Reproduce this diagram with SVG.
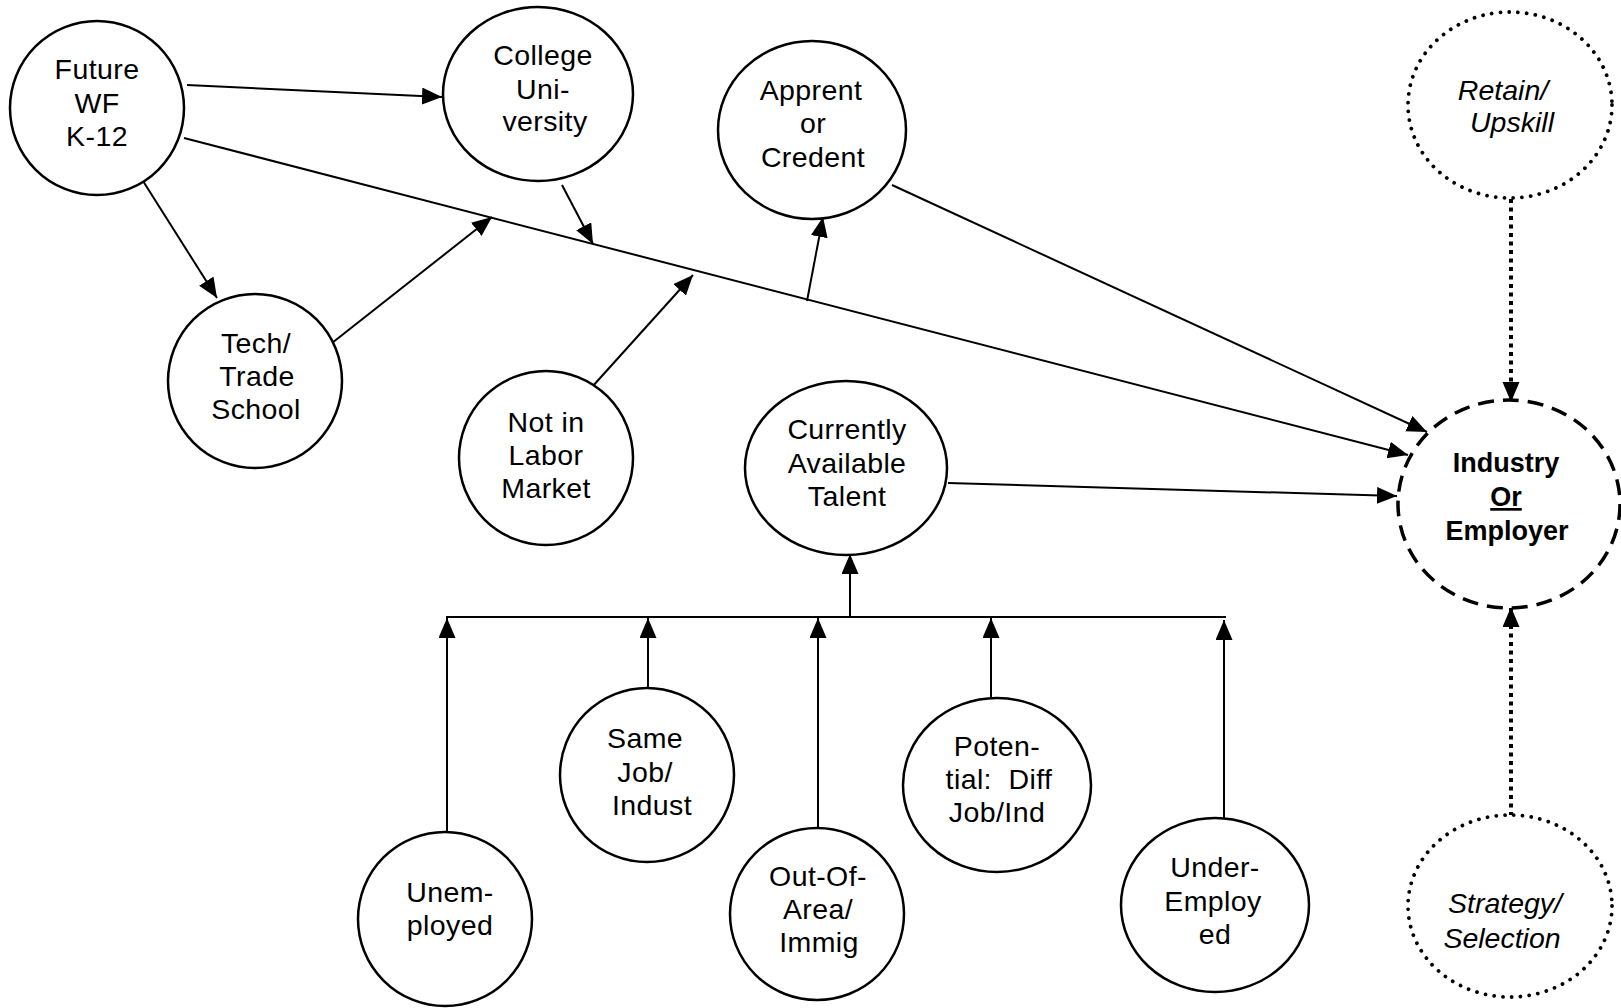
<svg xmlns="http://www.w3.org/2000/svg" width="1621" height="1008" viewBox="0 0 1621 1008">
<style>
.n{fill:#fff;stroke:#000;stroke-width:2.5}
.dash{fill:#fff;stroke:#000;stroke-width:3.5;stroke-dasharray:16 9}
.dot{fill:#fff;stroke:#000;stroke-width:3.8;stroke-dasharray:0.01 8.8;stroke-linecap:round}
.t{font-family:"Liberation Sans",Arial,sans-serif;font-size:28.5px;letter-spacing:0.4px;text-anchor:middle;fill:#000}
.b{font-family:"Liberation Sans",Arial,sans-serif;font-size:27px;font-weight:bold;text-anchor:middle;fill:#000}
.i{font-family:"Liberation Sans",Arial,sans-serif;font-size:28.5px;font-style:italic;text-anchor:middle;fill:#000}
.c{fill:none;stroke:#000;stroke-width:2;marker-end:url(#ah)}
.bus{fill:none;stroke:#000;stroke-width:2.2}
.dc{fill:none;stroke:#000;stroke-width:4;stroke-dasharray:4 4.5;marker-end:url(#ah)}
</style>
<defs>
<marker id="ah" markerUnits="userSpaceOnUse" markerWidth="21" markerHeight="18" refX="20" refY="8.5" orient="auto">
<path d="M0,0 L20,8.5 L0,17 z" fill="#000"/>
</marker>
</defs>
<rect width="1621" height="1008" fill="#fff"/>
<g id="connectors">
<path class="c" d="M187,85 L442,97"/>
<path class="c" d="M184,138 L1408,455"/>
<path class="c" d="M143,181 L217,298"/>
<path class="c" d="M332,343 L492,217"/>
<path class="c" d="M562,185 L593,244"/>
<path class="c" d="M592,387 L693,275"/>
<path class="c" d="M807,301 L823,217"/>
<path class="c" d="M892,185 L1427,432"/>
<path class="c" d="M948,483 L1397,496"/>
<path class="bus" d="M446,617 L1226,617"/>
<path class="c" d="M850,617 L850,554"/>
<path class="c" d="M447,832 L447,618"/>
<path class="c" d="M648,688 L648,618"/>
<path class="c" d="M818,828 L818,618"/>
<path class="c" d="M991,698 L991,618"/>
<path class="c" d="M1224,818 L1224,620"/>
<path class="dc" d="M1511,199 L1511,402"/>
<path class="dc" d="M1511,816 L1511,607"/>
</g>
<g id="future">
<ellipse class="n" cx="97" cy="108" rx="87" ry="87"/>
<text class="t" x="97" y="79">Future</text>
<text class="t" x="97" y="113">WF</text>
<text class="t" x="97" y="146">K-12</text>
</g>
<g id="college">
<ellipse class="n" cx="538" cy="94" rx="95" ry="87"/>
<text class="t" x="543" y="65">College</text>
<text class="t" x="543" y="99">Uni-</text>
<text class="t" x="545" y="131">versity</text>
</g>
<g id="apprent">
<ellipse class="n" cx="812" cy="130" rx="94" ry="89"/>
<text class="t" x="811" y="100">Apprent</text>
<text class="t" x="813" y="133">or</text>
<text class="t" x="813" y="167">Credent</text>
</g>
<g id="tech">
<ellipse class="n" cx="255" cy="381" rx="87" ry="87"/>
<text class="t" x="256" y="353">Tech/</text>
<text class="t" x="257" y="386">Trade</text>
<text class="t" x="256" y="419">School</text>
</g>
<g id="notinlabor">
<ellipse class="n" cx="546" cy="458" rx="87" ry="87"/>
<text class="t" x="546" y="432">Not in</text>
<text class="t" x="546" y="465">Labor</text>
<text class="t" x="546" y="498">Market</text>
</g>
<g id="currently">
<ellipse class="n" cx="846" cy="468" rx="101" ry="87"/>
<text class="t" x="847" y="439">Currently</text>
<text class="t" x="847" y="473">Available</text>
<text class="t" x="847" y="506">Talent</text>
</g>
<g id="industry">
<ellipse class="dash" cx="1509" cy="504" rx="111" ry="104"/>
<text class="b" x="1506" y="472">Industry</text>
<text class="b" x="1506" y="506" text-decoration="underline">Or</text>
<text class="b" x="1507" y="540">Employer</text>
</g>
<g id="retain">
<ellipse class="dot" cx="1510" cy="105" rx="102" ry="93"/>
<text class="i" x="1503" y="100">Retain/</text>
<text class="i" x="1512" y="132">Upskill</text>
</g>
<g id="strategy">
<ellipse class="dot" cx="1510" cy="906" rx="102" ry="91"/>
<text class="i" x="1505" y="913">Strategy/</text>
<text class="i" x="1502" y="948">Selection</text>
</g>
<g id="unemployed">
<ellipse class="n" cx="445" cy="919" rx="87" ry="87"/>
<text class="t" x="450" y="902">Unem-</text>
<text class="t" x="450" y="935">ployed</text>
</g>
<g id="samejob">
<ellipse class="n" cx="647" cy="775" rx="87" ry="87"/>
<text class="t" x="645" y="748">Same</text>
<text class="t" x="645" y="782">Job/</text>
<text class="t" x="652" y="815">Indust</text>
</g>
<g id="outofarea">
<ellipse class="n" cx="817" cy="914" rx="87" ry="86"/>
<text class="t" x="818" y="886">Out-Of-</text>
<text class="t" x="818" y="919">Area/</text>
<text class="t" x="819" y="952">Immig</text>
</g>
<g id="potential">
<ellipse class="n" cx="997" cy="785" rx="94" ry="87"/>
<text class="t" x="997" y="756">Poten-</text>
<text class="t" x="999" y="789" xml:space="preserve">tial:  Diff</text>
<text class="t" x="997" y="822">Job/Ind</text>
</g>
<g id="underemployed">
<ellipse class="n" cx="1215" cy="905" rx="94" ry="87"/>
<text class="t" x="1215" y="877">Under-</text>
<text class="t" x="1213" y="911">Employ</text>
<text class="t" x="1215" y="944">ed</text>
</g>
</svg>
